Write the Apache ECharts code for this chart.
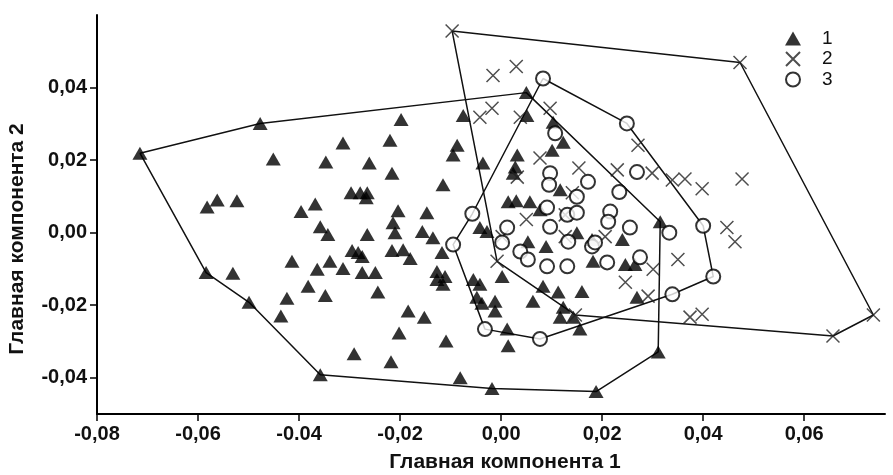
<!DOCTYPE html>
<html><head><meta charset="utf-8">
<script src="https://cdn.jsdelivr.net/npm/echarts@6/dist/echarts.min.js"></script>
<style>html,body{margin:0;padding:0;background:#fff}#c{width:893px;height:475px}</style>
</head><body><div id="c"></div>
<script>
// Group 1 (triangles) [PC1, PC2]
var group1 = [
[-0.0715,0.0219],[-0.0477,0.0301],[0.0050,0.0386],[0.0315,0.0030],[0.0311,-0.0329],[0.0188,-0.0438],
[-0.0018,-0.0430],[-0.0358,-0.0392],[-0.0499,-0.0192],[-0.0584,-0.0110],[-0.0582,0.0071],[-0.0562,0.0090],
[-0.0523,0.0088],[-0.0451,0.0203],[-0.0396,0.0058],[-0.0531,-0.0112],[-0.0414,-0.0079],[-0.0424,-0.0181],
[-0.0436,-0.0230],[-0.0368,0.0079],[-0.0358,0.0016],[-0.0343,-0.0005],[-0.0347,0.0195],[-0.0313,0.0247],
[-0.0297,0.0110],[-0.0279,0.0110],[-0.0265,0.0110],[-0.0267,0.0096],[-0.0261,0.0192],[-0.0220,0.0255],
[-0.0216,0.0164],[-0.0198,0.0312],[-0.0204,0.0060],[-0.0147,0.0055],[-0.0214,0.0027],[-0.0210,0.0000],
[-0.0265,-0.0005],[-0.0156,0.0003],[-0.0135,-0.0014],[-0.0075,0.0323],[-0.0087,0.0241],[-0.0095,0.0214],
[-0.0115,0.0132],[-0.0364,-0.0101],[-0.0339,-0.0079],[-0.0313,-0.0099],[-0.0295,-0.0049],[-0.0283,-0.0055],
[-0.0275,-0.0066],[-0.0216,-0.0049],[-0.0194,-0.0047],[-0.0180,-0.0071],[-0.0117,-0.0055],[-0.0275,-0.0110],
[-0.0249,-0.0110],[-0.0382,-0.0148],[-0.0348,-0.0173],[-0.0244,-0.0164],[-0.0127,-0.0107],[-0.0127,-0.0129],
[-0.0115,-0.0142],[-0.0184,-0.0216],[-0.0152,-0.0233],[-0.0202,-0.0277],[-0.0109,-0.0299],[-0.0291,-0.0334],
[-0.0218,-0.0356],[-0.0081,-0.0400],[-0.0036,0.0192],[0.0032,0.0214],[0.0028,0.0181],[0.0024,0.0164],
[0.0101,0.0227],[0.0123,0.0249],[0.0014,0.0085],[0.0030,0.0088],[0.0057,0.0085],[0.0077,0.0063],
[-0.0042,0.0014],[0.0053,-0.0025],[0.0089,-0.0038],[0.0117,0.0118],[0.0150,0.0000],[0.0180,-0.0019],
[0.0182,-0.0079],[0.0051,0.0323],[0.0103,0.0304],[-0.0111,-0.0121],[-0.0055,-0.0129],[-0.0042,-0.0142],
[-0.0048,-0.0178],[-0.0038,-0.0195],[-0.0012,-0.0189],[-0.0012,-0.0216],[0.0002,-0.0121],[0.0012,-0.0266],
[0.0014,-0.0312],[0.0063,-0.0189],[0.0083,-0.0148],[0.0113,-0.0164],[0.0160,-0.0162],[0.0123,-0.0206],
[0.0117,-0.0233],[0.0143,-0.0233],[0.0156,-0.0266],[0.0240,-0.0019],[0.0246,-0.0088],[0.0265,-0.0088],
[0.0269,-0.0178],[-0.0028,0.0003]
];
// Group 2 (crosses)
var group2 = [
[-0.0097,0.0556],[0.0473,0.0469],[0.0737,-0.0227],[0.0657,-0.0285],[0.0147,-0.0227],[-0.0008,-0.0079],
[-0.0016,0.0433],[0.0030,0.0458],[-0.0042,0.0318],[-0.0018,0.0343],[0.0038,0.0318],[0.0097,0.0343],
[0.0077,0.0206],[0.0032,0.0153],[0.0154,0.0178],[0.0141,0.0110],[0.0050,0.0036],[0.0127,0.0049],
[0.0127,-0.0011],[0.0002,-0.0011],[0.0271,0.0241],[0.0230,0.0173],[0.0299,0.0164],[0.0339,0.0145],
[0.0364,0.0148],[0.0398,0.0121],[0.0477,0.0148],[0.0206,-0.0011],[0.0447,0.0014],[0.0463,-0.0025],
[0.0350,-0.0074],[0.0301,-0.0101],[0.0246,-0.0137],[0.0291,-0.0175],[0.0374,-0.0233],[0.0398,-0.0225]
];
// Group 3 (circles)
var group3 = [
[0.0083,0.0425],[0.0249,0.0301],[0.0400,0.0019],[0.0420,-0.0121],[0.0339,-0.0170],[0.0077,-0.0293],
[-0.0032,-0.0266],[-0.0095,-0.0033],[-0.0057,0.0052],[0.0107,0.0274],[0.0269,0.0167],[0.0234,0.0112],
[0.0097,0.0164],[0.0095,0.0132],[0.0172,0.0140],[0.0150,0.0099],[0.0091,0.0069],[0.0131,0.0049],
[0.0150,0.0055],[0.0097,0.0016],[0.0012,0.0014],[0.0002,-0.0027],[0.0038,-0.0052],[0.0053,-0.0074],
[0.0133,-0.0025],[0.0180,-0.0038],[0.0216,0.0058],[0.0212,0.0030],[0.0255,0.0014],[0.0333,0.0000],
[0.0186,-0.0027],[0.0210,-0.0082],[0.0275,-0.0068],[0.0091,-0.0093],[0.0131,-0.0093]
];
// convex hull vertices (in drawing order)
var hull1 = [[-0.0715,0.0219],[-0.0477,0.0301],[0.0050,0.0386],[0.0315,0.0030],[0.0311,-0.0329],[0.0188,-0.0438],[-0.0018,-0.0430],[-0.0358,-0.0392],[-0.0499,-0.0192],[-0.0584,-0.0110],[-0.0715,0.0219]];
var hull2 = [[-0.0097,0.0556],[0.0473,0.0469],[0.0737,-0.0227],[0.0657,-0.0285],[0.0147,-0.0227],[-0.0008,-0.0079],[-0.0097,0.0556]];
var hull3 = [[0.0083,0.0425],[0.0249,0.0301],[0.0400,0.0019],[0.0420,-0.0121],[0.0339,-0.0170],[0.0077,-0.0293],[-0.0032,-0.0266],[-0.0095,-0.0033],[-0.0057,0.0052],[0.0083,0.0425]];
var xTicks = [-0.08,-0.06,-0.04,-0.02,0,0.02,0.04,0.06];
var yTicks = [-0.04,-0.02,0,0.02,0.04];
var xLabels = {"-0.08":"-0,08","-0.06":"-0,06","-0.04":"-0.04","-0.02":"-0,02","0":"0,00","0.02":"0,02","0.04":"0,04","0.06":"0,06"};
var yLabels = {"-0.04":"-0,04","-0.02":"-0,02","0":"0,00","0.02":"0,02","0.04":"0,04"};
var seriesNames = ["1","2","3"];
var xTitle = "Главная компонента 1";
var yTitle = "Главная компонента 2";

var FONT = '"Liberation Sans", Arial, sans-serif';
var chart = echarts.init(document.getElementById('c'), null, {renderer:'canvas'});
function key(v){ return String(Math.round(v*100)/100); }
function hullSeries(d){
  return {type:'line', data:d, symbol:'none', silent:true, z:1,
    lineStyle:{color:'#111', width:1.5}};
}
var crossPath = 'path://M0,0L10,10M10,0L0,10';
chart.setOption({
  animation:false,
  backgroundColor:'#fff',
  grid:{left:97, right:8, top:15, bottom:61},
  xAxis:{type:'value', min:-0.08, max:0.076,
    axisLine:{onZero:false, lineStyle:{color:'#000', width:2}},
    axisTick:{customValues:xTicks, length:7, lineStyle:{color:'#000', width:1.5}},
    axisLabel:{customValues:xTicks, formatter:function(v){return xLabels[key(v)];}, color:'#111', fontFamily:FONT, fontWeight:'bold', fontSize:20, margin:10},
    splitLine:{show:false}},
  yAxis:{type:'value', min:-0.05, max:0.06,
    axisLine:{onZero:false, lineStyle:{color:'#000', width:2}},
    axisTick:{customValues:yTicks, length:7, lineStyle:{color:'#000', width:1.5}},
    axisLabel:{customValues:yTicks, formatter:function(v){return yLabels[key(v)];}, color:'#111', fontFamily:FONT, fontWeight:'bold', fontSize:20, margin:10},
    splitLine:{show:false}},
  legend:{data:seriesNames, orient:'vertical', left:780, top:24, itemWidth:16, itemHeight:14, itemGap:1.5,
    textStyle:{fontFamily:FONT, fontSize:19, lineHeight:19, color:'#111', padding:[0,0,0,16]}},
  graphic:[
    {type:'text', x:505, y:452, style:{text:xTitle, font:'bold 21px '+FONT, fill:'#111', textAlign:'center'}},
    {type:'text', rotation:Math.PI/2, x:7, y:239, style:{text:yTitle, font:'bold 21px '+FONT, fill:'#111', textAlign:'center'}}
  ],
  series:[
    hullSeries(hull1), hullSeries(hull2), hullSeries(hull3),
    {name:'1', type:'scatter', data:group1, symbol:'triangle', symbolSize:[15,13], z:3,
      itemStyle:{color:'#000'}},
    {name:'2', type:'scatter', data:group2, symbol:crossPath, symbolSize:13, z:3,
      itemStyle:{color:'rgba(0,0,0,0)', borderColor:'#222', borderWidth:1.5}},
    {name:'3', type:'scatter', data:group3, symbol:'circle', symbolSize:14, z:4,
      itemStyle:{color:'#fff', borderColor:'#000', borderWidth:2}}
  ]
});
</script></body></html>
